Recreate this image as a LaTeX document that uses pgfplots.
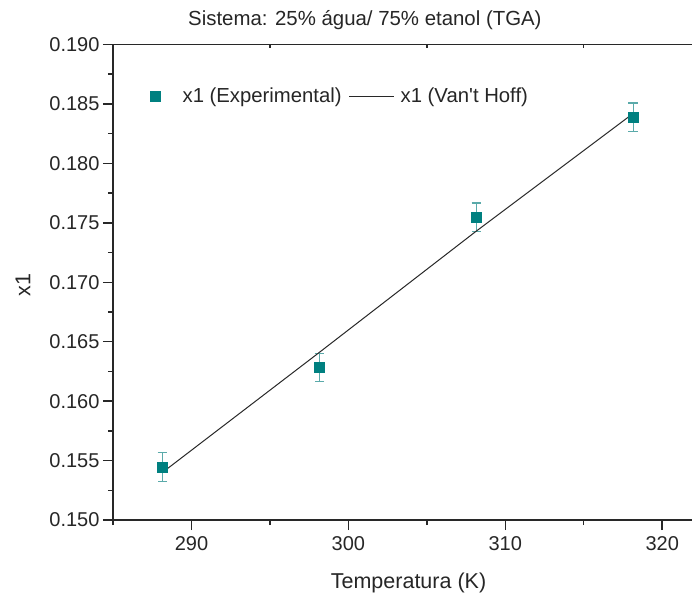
\documentclass[border=0pt]{standalone}
\usepackage{fontspec}
\setmainfont{Liberation Sans}
\usepackage{pgfplots}
\pgfplotsset{compat=1.18}
\definecolor{mteal}{RGB}{0,128,128}
\definecolor{errteal}{RGB}{90,170,170}
\definecolor{axgray}{RGB}{40,40,40}
\pgfplotsset{
  legmark/.style={legend image code/.code={\draw[mark repeat=2,mark phase=2,##1] plot coordinates {(0pt,0pt)(10pt,0pt)(20pt,0pt)}; \path (0pt,0pt) (31pt,0pt);}},
  legline/.style={legend image code/.code={\draw[##1] (0pt,0pt) -- (45pt,0pt);}},
}
\begin{document}
\begin{tikzpicture}
\begin{axis}[
  at={(0pt,0pt)}, anchor=south west,
  scale only axis, width=579pt, height=475.5pt,
  xmin=285, xmax=321.9, ymin=0.150, ymax=0.190,
  axis x line*=bottom, axis y line*=left,
  axis line style={axgray, line width=1.5pt},
  tick align=outside,
  xtick={290,300,310,320}, minor xtick={285,295,305,315},
  ytick={0.150,0.155,0.160,0.165,0.170,0.175,0.180,0.185,0.190},
  minor ytick={0.1525,0.1575,0.1625,0.1675,0.1725,0.1775,0.1825,0.1875},
  major tick length=10pt, minor tick length=5pt,
  every tick/.style={axgray, line width=1.5pt},
  tick label style={font=\fontsize{20}{24}\selectfont, text=black!85},
  xticklabel style={yshift=-3pt},
  yticklabel style={xshift=0pt},
  /pgf/number format/assume math mode=true,
  yticklabel style={/pgf/number format/.cd, fixed, fixed zerofill, precision=3},
  scaled y ticks=false,
  xlabel={Temperatura (K)}, ylabel={x1},
  label style={font=\fontsize{21.5}{25}\selectfont, text=black!85},
  xlabel style={at={(axis description cs:0.5104,0)}, anchor=base, yshift=-68pt},
  ylabel style={at={(axis description cs:0,0.4935)}, anchor=center, yshift=90pt},
  title={Sistema: 25\% água/ 75\% etanol (TGA)},
  title style={at={(axis description cs:0.1295,1)}, anchor=base west, yshift=13.5pt, inner sep=0pt, font=\fontsize{20.4}{24}\selectfont, text=black!85},
  legend style={draw=none, fill=none, at={(axis description cs:0.0501,0.8917)}, anchor=west,
    font=\fontsize{20.3}{24}\selectfont, text=black!85,
    /tikz/every even column/.append style={column sep=5pt},
    /tikz/every odd column/.append style={column sep=4pt}},
  legend columns=2,
]
\addplot[only marks, mark=square*, mark size=5pt, mark options={fill=mteal, draw=mteal}, legmark,
  error bars/.cd, y dir=both, y explicit,
  error bar style={errteal, line width=1.2pt},
  error mark options={errteal, line width=1.2pt, mark size=4.7pt, rotate=90}]
  table[x=T, y=x, y error=e] {
T x e
288.15 0.15445 0.0012
298.15 0.16282 0.0012
308.15 0.17546 0.0012
318.15 0.18388 0.0012
};
\addlegendentry{x1 (Experimental)}
\addplot[axgray, line width=1pt, no marks, legline]
  table[x=T, y=x] {
T x
288.15 0.1540
298.15 0.1641
308.15 0.1743
318.15 0.1842
};
\addlegendentry{x1 (Van\textquotesingle t Hoff)}
\end{axis}
\begin{axis}[
  at={(0pt,0pt)}, anchor=south west,
  scale only axis, width=579pt, height=475.5pt,
  xmin=285, xmax=321.9, ymin=0.150, ymax=0.190,
  axis x line*=top, axis y line=none,
  axis line style={axgray, line width=1.5pt},
  tick align=inside,
  xtick={295,305,315}, xticklabels={},
  major tick length=4pt,
  every tick/.style={axgray, line width=1.5pt},
]
\end{axis}
\pgfresetboundingbox
\path[use as bounding box] (-113pt,-72pt) rectangle (579pt,520pt);
\end{tikzpicture}
\end{document}
